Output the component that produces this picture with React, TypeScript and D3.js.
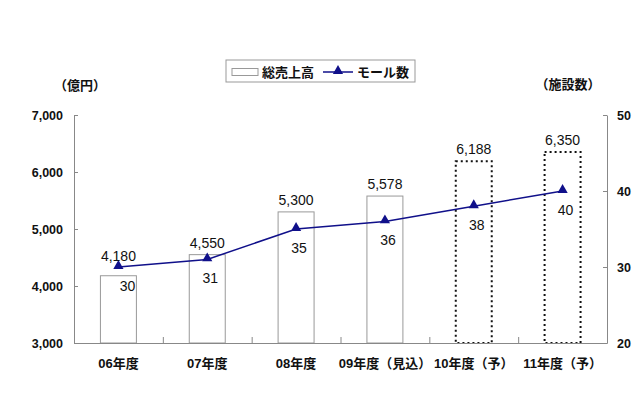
import React, { useEffect, useRef } from 'react';
import * as d3 from 'd3';

const categories = ['06年度', '07年度', '08年度', '09年度（見込）', '10年度（予）', '11年度（予）'];
const sales = [4180, 4550, 5300, 5578, 6188, 6350];
const malls = [30, 31, 35, 36, 38, 40];
const forecast = [false, false, false, false, true, true];
const leftTicks = [3000, 4000, 5000, 6000, 7000];
const rightTicks = [20, 30, 40, 50];

const FONT = '"Liberation Sans", "Noto Sans CJK JP", sans-serif';
const NAVY = '#10108a';

const App: React.FC = () => {
  const svgRef = useRef<SVGSVGElement>(null);

  useEffect(() => {
    document.body.style.margin = '0';
    const svg = d3.select(svgRef.current);
    svg.selectAll('*').remove();

    const left = 74, right = 607, top = 115, bottom = 343;

    const x = d3.scaleBand<string>()
      .domain(categories)
      .range([left, right])
      .paddingInner(0.595)
      .paddingOuter(0.2975);
    const yL = d3.scaleLinear().domain([3000, 7000]).range([bottom, top]);
    const yR = d3.scaleLinear().domain([20, 50]).range([bottom, top]);
    const cx = (c: string) => (x(c) ?? 0) + x.bandwidth() / 2;

    svg.attr('font-family', FONT);

    // bars
    svg.append('g')
      .selectAll('rect')
      .data(sales)
      .join('rect')
      .attr('x', (_, i) => x(categories[i]) ?? 0)
      .attr('y', (d) => yL(d))
      .attr('width', x.bandwidth())
      .attr('height', (d) => bottom - yL(d))
      .attr('fill', 'white')
      .attr('stroke', (_, i) => (forecast[i] ? '#111' : '#999'))
      .attr('stroke-width', (_, i) => (forecast[i] ? 2 : 1))
      .attr('stroke-dasharray', (_, i) => (forecast[i] ? '2,3' : null));

    // axes
    const axisColor = '#888';
    const gl = svg.append('g').attr('transform', `translate(${left},0)`)
      .call(d3.axisLeft(yL).tickValues(leftTicks).tickSizeInner(-4).tickSizeOuter(0).tickPadding(11)
        .tickFormat((d) => d3.format(',')(d as number)));
    const gr = svg.append('g').attr('transform', `translate(${right},0)`)
      .call(d3.axisRight(yR).tickValues(rightTicks).tickSizeInner(-4).tickSizeOuter(0).tickPadding(10));
    const boundaries = d3.range(1, categories.length).map((i) => left + i * x.step());
    const gb = svg.append('g').attr('transform', `translate(0,${bottom})`)
      .call(d3.axisBottom(d3.scaleLinear().domain([left, right]).range([left, right]))
        .tickValues(boundaries).tickSizeInner(-6).tickSizeOuter(0).tickFormat(() => ''));
    [gl, gr, gb].forEach((g) => {
      g.selectAll('path, line').attr('stroke', axisColor);
      g.selectAll('text').attr('font-size', 12.5).attr('font-weight', 'bold').attr('fill', '#111').attr('font-family', FONT);
    });

    // category labels
    svg.append('g')
      .selectAll('text')
      .data(categories)
      .join('text')
      .attr('x', (d) => cx(d))
      .attr('y', 368)
      .attr('text-anchor', 'middle')
      .attr('font-size', 13)
      .attr('font-weight', 'bold')
      .attr('fill', '#111')
      .text((d) => d);

    // line
    const line = d3.line<number>()
      .x((_, i) => cx(categories[i]))
      .y((d) => yR(d));
    svg.append('path')
      .datum(malls)
      .attr('d', line)
      .attr('fill', 'none')
      .attr('stroke', NAVY)
      .attr('stroke-width', 1.5);
    const tri = d3.symbol().type(d3.symbolTriangle).size(45);
    svg.append('g')
      .selectAll('path')
      .data(malls)
      .join('path')
      .attr('transform', (d, i) => `translate(${cx(categories[i])},${yR(d) - 1})`)
      .attr('d', tri)
      .attr('fill', NAVY);

    // bar value labels
    svg.append('g')
      .selectAll('text')
      .data(sales)
      .join('text')
      .attr('x', (_, i) => cx(categories[i]))
      .attr('y', (d, i) => yL(d) - (i === 0 ? 15 : 7))
      .attr('text-anchor', 'middle')
      .attr('font-size', 14)
      .attr('fill', '#111')
      .text((d) => d3.format(',')(d));

    // mall labels
    svg.append('g')
      .selectAll('text')
      .data(malls)
      .join('text')
      .attr('x', (_, i) => cx(categories[i]) + (i === 0 ? 9 : 3))
      .attr('y', (d) => yR(d) + 24)
      .attr('text-anchor', 'middle')
      .attr('font-size', 14)
      .attr('fill', '#111')
      .text((d) => d);

    // axis titles
    svg.append('text').attr('x', 80).attr('y', 90).attr('text-anchor', 'middle')
      .attr('font-size', 13).attr('font-weight', 'bold').attr('fill', '#111').text('（億円）');
    svg.append('text').attr('x', 568).attr('y', 89).attr('text-anchor', 'middle')
      .attr('font-size', 13).attr('font-weight', 'bold').attr('fill', '#111').text('（施設数）');

    // legend
    const lg = svg.append('g');
    lg.append('rect').attr('x', 226).attr('y', 60).attr('width', 189).attr('height', 22)
      .attr('fill', 'white').attr('stroke', '#999');
    lg.append('rect').attr('x', 232).attr('y', 68.5).attr('width', 26).attr('height', 7)
      .attr('fill', 'white').attr('stroke', '#999');
    lg.append('text').attr('x', 262).attr('y', 77).attr('font-size', 13).attr('font-weight', 'bold')
      .attr('fill', '#111').text('総売上高');
    lg.append('line').attr('x1', 323).attr('x2', 353).attr('y1', 72).attr('y2', 72)
      .attr('stroke', NAVY).attr('stroke-width', 1.5);
    lg.append('path').attr('transform', 'translate(338,71)').attr('d', tri).attr('fill', NAVY);
    lg.append('text').attr('x', 357).attr('y', 77).attr('font-size', 13).attr('font-weight', 'bold')
      .attr('fill', '#111').text('モール数');

    return () => {
      svg.selectAll('*').remove();
    };
  }, []);

  return <svg ref={svgRef} width={640} height={400} style={{ display: 'block', background: 'white' }}></svg>;
};

export default App;
